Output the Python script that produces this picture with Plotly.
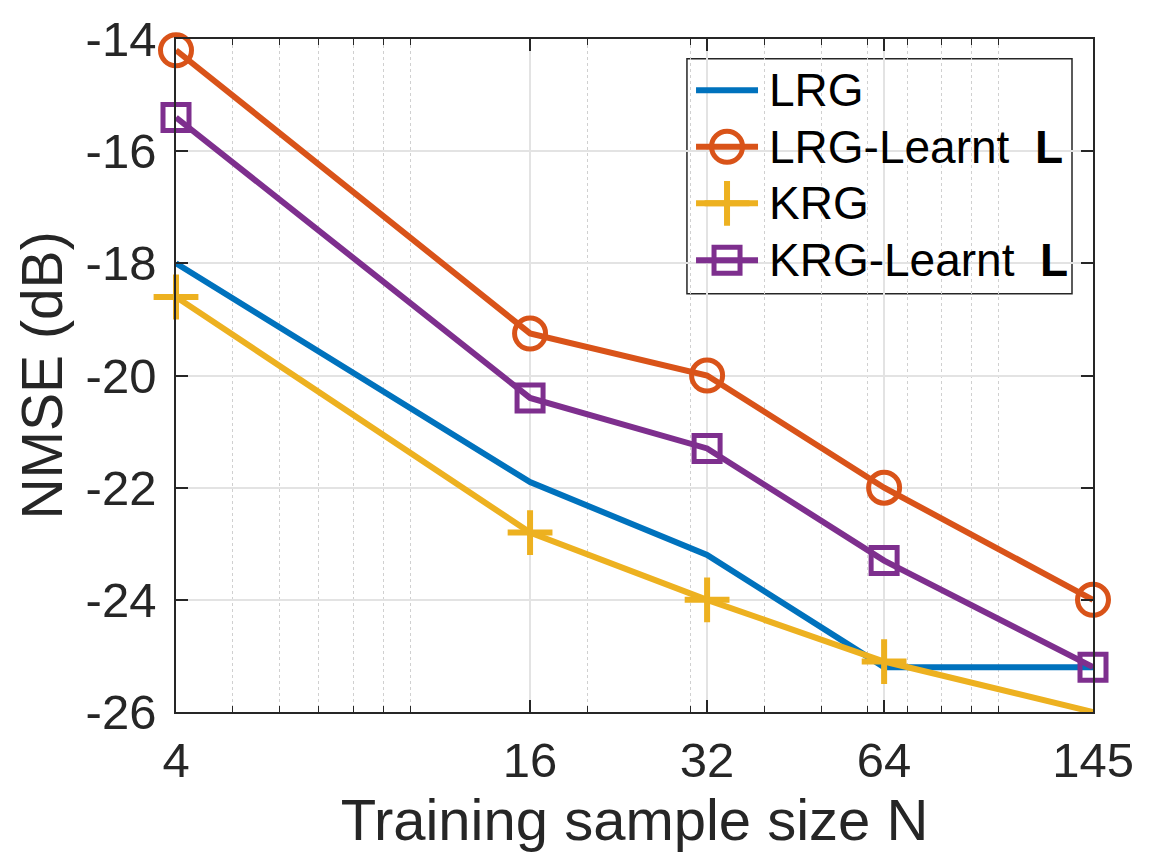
import plotly.graph_objects as go

N = [4, 16, 32, 64, 145]
lrg = [-18.0, -21.9, -23.2, -25.2, -25.2]
lrg_learnt = [-14.2, -19.25, -20.0, -22.0, -24.0]
krg = [-18.6, -22.8, -24.0, -25.1, -26.0]
krg_learnt = [-15.4, -20.4, -21.3, -23.3, -25.2]

series_names = ["LRG", "LRG-Learnt &nbsp;<b>L</b>", "KRG", "KRG-Learnt &nbsp;<b>L</b>"]

x_ticks = [4, 16, 32, 64, 145]
x_minor = [5, 6, 7, 8, 9, 10, 20, 30, 40, 50, 60, 70, 80, 90, 100]
y_ticks = [-26, -24, -22, -20, -18, -16, -14]

FONT = "Liberation Sans, Arial, Helvetica, sans-serif"
TXT = "#262626"

colors = ["#0072BD", "#D95319", "#EDB120", "#7E2F8E"]
markers = [None,
           dict(symbol="circle-open", size=31, line_width=5),
           dict(symbol="cross-thin", size=32, line_width=6),
           dict(symbol="square-open", size=26, line_width=5)]
data = [lrg, lrg_learnt, krg, krg_learnt]


def in_axes(v, lo=-26.0):
    # markers whose centre sits on/below the lower axis limit are clipped (as in the original)
    return v > lo + 1e-9


fig = go.Figure()
for name, ys, col, mk in zip(series_names, data, colors, markers):
    if mk is None:
        fig.add_trace(go.Scatter(x=N, y=ys, mode="lines", name=name,
                                 line=dict(color=col, width=6),
                                 cliponaxis=False, showlegend=False))
    else:
        sizes = [mk["size"] if in_axes(v) else 0 for v in ys]
        fig.add_trace(go.Scatter(x=N, y=ys, mode="lines+markers", name=name,
                                 line=dict(color=col, width=6),
                                 marker=dict(symbol=mk["symbol"], size=sizes, color=col,
                                             opacity=1,
                                             line=dict(color=col, width=mk["line_width"])),
                                 cliponaxis=False, showlegend=False))

# ---- custom legend (large markers like the original) ----
lx0, lx1 = 0.5572, 0.9771
ly0, ly1 = 0.6213, 0.9708
samp_x0, samp_x1, samp_xm = 0.5671, 0.6347, 0.6009
text_x = 0.6445
row_y = [0.924, 0.8399, 0.7558, 0.6711]

fig.add_shape(type="rect", xref="paper", yref="paper", x0=lx0, x1=lx1, y0=ly0, y1=ly1,
              fillcolor="white", line=dict(color=TXT, width=1.5), layer="between")
for name, col, mk, ry in zip(series_names, colors, markers, row_y):
    fig.add_trace(go.Scatter(x=[samp_x0, samp_x1], y=[ry, ry], mode="lines",
                             line=dict(color=col, width=6), xaxis="x2", yaxis="y2",
                             showlegend=False, hoverinfo="skip", cliponaxis=False))
    if mk is not None:
        fig.add_trace(go.Scatter(x=[samp_xm], y=[ry], mode="markers",
                                 marker=dict(symbol=mk["symbol"], size=mk["size"], color=col,
                                             opacity=1,
                                             line=dict(color=col, width=mk["line_width"])),
                                 xaxis="x2", yaxis="y2", showlegend=False,
                                 hoverinfo="skip", cliponaxis=False))
    fig.add_annotation(x=text_x, y=ry, xref="paper", yref="paper", text=name,
                       showarrow=False, xanchor="left", yanchor="middle",
                       font=dict(size=46, color="black", family=FONT))

fig.update_layout(
    width=1150, height=867,
    margin=dict(l=176, r=57, t=28, b=155),
    paper_bgcolor="white", plot_bgcolor="white",
    font=dict(family=FONT, color=TXT, size=49),
    showlegend=False,
    xaxis=dict(
        type="log", range=[0.6020599, 2.161369],
        tickmode="array", tickvals=x_ticks, ticktext=[str(v) for v in x_ticks],
        ticks="inside", ticklen=12, tickwidth=1.5, tickcolor=TXT,
        showline=True, linecolor=TXT, linewidth=1.5, mirror="ticks",
        showgrid=True, gridcolor="#e3e3e3", gridwidth=1.5,
        zeroline=False,
        tickfont=dict(size=49, color=TXT),
        ticklabelstandoff=4,
        minor=dict(tickmode="array", tickvals=x_minor, ticks="inside", ticklen=6,
                   tickcolor=TXT, tickwidth=1, showgrid=True, griddash="dot",
                   gridcolor="#d0d0d0", gridwidth=1.2),
        title=dict(text="Training sample size N", font=dict(size=58, color=TXT), standoff=12),
    ),
    yaxis=dict(
        range=[-26, -14],
        tickmode="array", tickvals=y_ticks, ticktext=[str(v) for v in y_ticks],
        ticks="inside", ticklen=12, tickwidth=1.5, tickcolor=TXT,
        showline=True, linecolor=TXT, linewidth=1.5, mirror="ticks",
        showgrid=True, gridcolor="#e3e3e3", gridwidth=1.5,
        zeroline=False,
        tickfont=dict(size=49, color=TXT),
        ticklabelstandoff=8,
        title=dict(text="NMSE (dB)", font=dict(size=57, color=TXT), standoff=5),
    ),
    xaxis2=dict(overlaying="x", anchor="y2", range=[0, 1], visible=False, fixedrange=True),
    yaxis2=dict(overlaying="y", anchor="x2", range=[0, 1], visible=False, fixedrange=True),
)

fig.write_html("out.html")
